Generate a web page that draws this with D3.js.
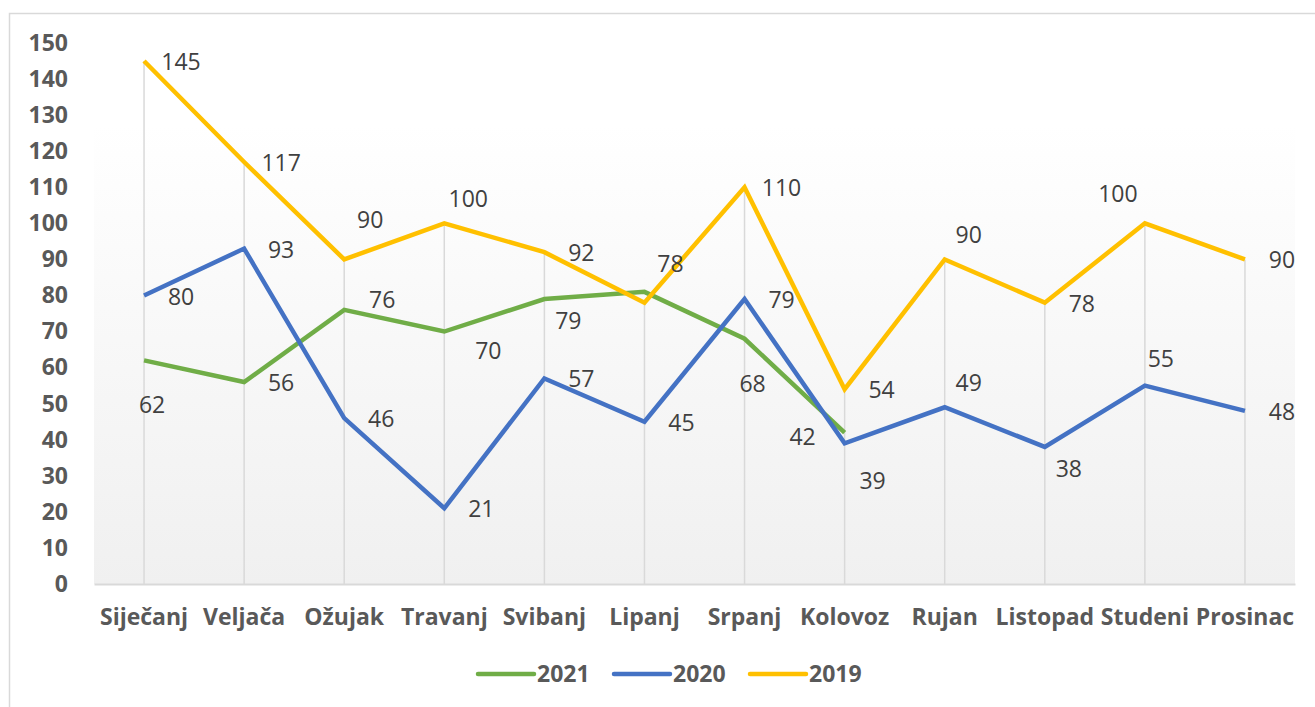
<!DOCTYPE html>
<html>
<head>
<meta charset="utf-8">
<script src="https://cdn.jsdelivr.net/npm/d3@7"></script>
<style>
  body { margin: 0; background: #fff; }
  text { font-family: "Open Sans", sans-serif; }
</style>
</head>
<body>
<div class="chart"></div>
<script>
var months = [`Siječanj`, `Veljača`, `Ožujak`, `Travanj`, `Svibanj`, `Lipanj`, `Srpanj`, `Kolovoz`, `Rujan`, `Listopad`, `Studeni`, `Prosinac`];
var values2021 = [62, 56, 76, 70, 79, 81, 68, 42];
var values2020 = [80, 93, 46, 21, 57, 45, 79, 39, 49, 38, 55, 48];
var values2019 = [145, 117, 90, 100, 92, 78, 110, 54, 90, 78, 100, 90];
var yTicks = [0, 10, 20, 30, 40, 50, 60, 70, 80, 90, 100, 110, 120, 130, 140, 150];

// where each data label sits relative to its point (see offsets below, x = hidden)
var place2021 = [`b`, `r`, `ru`, `rb`, `bs`, `x`, `b`, `l`];
var place2020 = [`r`, `r`, `r`, `r`, `r`, `r`, `r`, `br`, `ar`, `bs`, `au`, `r`];
var place2019 = [`r`, `r`, `a`, `ar`, `r`, `a`, `r`, `r`, `ar`, `r`, `al`, `r`];

var series = [
    {name: `2021`, values: values2021, color: `#70ad47`, place: place2021},
    {name: `2020`, values: values2020, color: `#4472c4`, place: place2020},
    {name: `2019`, values: values2019, color: `#ffc000`, place: place2019}
];

var fullWidth = 1315, fullHeight = 707;
var margin = {top: 43, left: 94, right: 20, bottom: 123};
var width = 1201;
var height = fullHeight - margin.top - margin.bottom;

var svg = d3.select(`.chart`)
    .append(`svg`)
    .attr(`width`, fullWidth)
    .attr(`height`, fullHeight);

// chart border
svg.append(`rect`)
    .attr(`x`, 9.5).attr(`y`, 13.5)
    .attr(`width`, 1330).attr(`height`, 730)
    .style(`fill`, `#fff`)
    .style(`stroke`, `#d9d9d9`)
    .style(`stroke-width`, 1.5);

var grad = svg.append(`defs`).append(`linearGradient`)
    .attr(`id`, `bg`)
    .attr(`x1`, 0).attr(`y1`, 0).attr(`x2`, 0).attr(`y2`, 1);
grad.append(`stop`).attr(`offset`, `0%`).attr(`stop-color`, `#ffffff`);
grad.append(`stop`).attr(`offset`, `15%`).attr(`stop-color`, `#ffffff`);
grad.append(`stop`).attr(`offset`, `100%`).attr(`stop-color`, `#f0f0f0`);

var g = svg.append(`g`)
    .attr(`transform`, `translate(${margin.left},${margin.top})`);

var xScale = d3.scaleBand()
    .domain(months)
    .range([0, width]);

var yScale = d3.scaleLinear()
    .domain([0, 150])
    .range([height, 0]);

var cx = m => xScale(m) + xScale.bandwidth() / 2;

g.append(`rect`)
    .attr(`width`, width)
    .attr(`height`, height)
    .style(`fill`, `url(#bg)`);

// drop lines from the 2019 points
g.selectAll(`.drop`)
    .data(values2019)
    .enter()
    .append(`line`)
    .attr(`x1`, (d, i) => cx(months[i]))
    .attr(`x2`, (d, i) => cx(months[i]))
    .attr(`y1`, d => yScale(d))
    .attr(`y2`, height)
    .style(`stroke`, `#d9d9d9`)
    .style(`stroke-width`, 1.5);

var xAxis = g.append(`g`)
    .attr(`transform`, `translate(0, ${height})`)
    .call(d3.axisBottom(xScale).tickSize(0).tickPadding(25));
xAxis.select(`.domain`).style(`stroke`, `#d9d9d9`).style(`stroke-width`, 2);
xAxis.selectAll(`text`)
    .style(`font-family`, `"Open Sans", sans-serif`)
    .style(`font-size`, `23px`)
    .style(`font-weight`, `bold`)
    .style(`fill`, `#595959`);

var yAxis = g.append(`g`)
    .call(d3.axisLeft(yScale).tickValues(yTicks).tickSize(0).tickPadding(26));
yAxis.select(`.domain`).remove();
yAxis.selectAll(`text`)
    .style(`font-family`, `"Open Sans", sans-serif`)
    .style(`font-size`, `23px`)
    .style(`font-weight`, `bold`)
    .style(`fill`, `#595959`);

var line = d3.line()
    .x((d, i) => cx(months[i]))
    .y(d => yScale(d));

g.selectAll(`.line`)
    .data(series)
    .enter()
    .append(`path`)
    .attr(`class`, `line`)
    .attr(`d`, d => line(d.values))
    .style(`stroke`, d => d.color)
    .style(`fill`, `none`)
    .style(`stroke-width`, 4.5)
    .style(`stroke-linejoin`, `miter`);

var offsets = {
    r: [37, 1], b: [8, 45], a: [26, -39], l: [-42, 4],
    ar: [24, -24], au: [16, -27], br: [28, 38], bs: [24, 22],
    rb: [44, 19], ru: [38, -10], al: [-27, -29], x: null
};

series.forEach(s => {
    g.selectAll(null)
        .data(s.values.map((v, i) => ({v: v, i: i, p: s.place[i]})).filter(d => offsets[d.p]))
        .enter()
        .append(`text`)
        .attr(`x`, d => cx(months[d.i]) + offsets[d.p][0])
        .attr(`y`, d => yScale(d.v) + offsets[d.p][1])
        .attr(`text-anchor`, `middle`)
        .attr(`dy`, `0.35em`)
        .style(`font-size`, `23px`)
        .style(`fill`, `#404040`)
        .text(d => d.v);
});

// legend
var legend = svg.append(`g`)
    .attr(`transform`, `translate(478, 674)`);
var item = legend.selectAll(`.item`)
    .data(series)
    .enter()
    .append(`g`)
    .attr(`transform`, (d, i) => `translate(${i * 136}, 0)`);
item.append(`line`)
    .attr(`x1`, 0).attr(`x2`, 56)
    .style(`stroke`, d => d.color)
    .style(`stroke-width`, 4.5)
    .style(`stroke-linecap`, `round`);
item.append(`text`)
    .attr(`x`, 59)
    .attr(`dy`, `0.35em`)
    .style(`font-size`, `23px`)
    .style(`font-weight`, `bold`)
    .style(`fill`, `#595959`)
    .text(d => d.name);
</script>
</body>
</html>
